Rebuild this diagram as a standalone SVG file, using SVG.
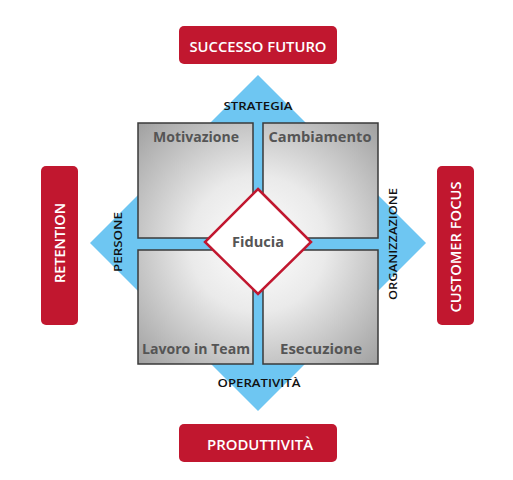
<svg xmlns="http://www.w3.org/2000/svg" width="513" height="480" viewBox="0 0 513 480">
<style>
.red{fill:#c1172f}
.rt{fill:#fff;font-family:"Open Sans","Liberation Sans",sans-serif;font-weight:600;font-size:14px;text-anchor:middle}
.lb{fill:#111;font-family:"Open Sans","Liberation Sans",sans-serif;font-weight:600;font-size:11px;text-anchor:middle}
.sq{fill:url(#g);stroke:#3a3a3a;stroke-width:1.5}
.st{fill:#555;font-family:"Open Sans","Liberation Sans",sans-serif;font-weight:700;font-size:15px;text-anchor:middle}
</style>
<defs>
<radialGradient id="g" gradientUnits="userSpaceOnUse" cx="258" cy="244" r="170">
<stop offset="0" stop-color="#ffffff"/>
<stop offset="0.4" stop-color="#eaeaea"/>
<stop offset="1" stop-color="#a0a0a0"/>
</radialGradient>
</defs>
<rect width="513" height="480" fill="#fff"/>
<g id="connectors">
<polygon points="258,75 426,243 258,411 90,243" fill="#6ec6f2"/>
</g>
<g id="successo-futuro"><rect class="red" x="179" y="26" width="158" height="38" rx="5"/><text class="rt" x="258" y="52" textLength="137" lengthAdjust="spacingAndGlyphs">SUCCESSO FUTURO</text></g>
<g id="retention"><rect class="red" x="41" y="166" width="37" height="159" rx="5"/><text class="rt" transform="translate(64.5,243) rotate(-90)" textLength="80" lengthAdjust="spacingAndGlyphs">RETENTION</text></g>
<g id="customer-focus"><rect class="red" x="437" y="166" width="37" height="159" rx="5"/><text class="rt" transform="translate(460.5,247) rotate(-90)" textLength="131" lengthAdjust="spacingAndGlyphs">CUSTOMER FOCUS</text></g>
<g id="produttivita"><rect class="red" x="179" y="424" width="158" height="38" rx="5"/><text class="rt" x="260" y="450" textLength="106" lengthAdjust="spacingAndGlyphs">PRODUTTIVITÀ</text></g>
<g id="strategia"><text class="lb" x="258" y="110" textLength="69" lengthAdjust="spacingAndGlyphs">STRATEGIA</text></g>
<g id="persone"><text class="lb" transform="translate(122,242) rotate(-90)" textLength="60" lengthAdjust="spacingAndGlyphs">PERSONE</text></g>
<g id="organizzazione"><text class="lb" transform="translate(397,244) rotate(-90)" textLength="112" lengthAdjust="spacingAndGlyphs">ORGANIZZAZIONE</text></g>
<g id="operativita"><text class="lb" x="259" y="387" textLength="83" lengthAdjust="spacingAndGlyphs">OPERATIVITÀ</text></g>
<g id="motivazione"><rect class="sq" x="138" y="123" width="115" height="115"/><text class="st" x="196" y="142" textLength="86" lengthAdjust="spacingAndGlyphs">Motivazione</text></g>
<g id="cambiamento"><rect class="sq" x="263" y="123" width="115" height="115"/><text class="st" x="320" y="142" textLength="103" lengthAdjust="spacingAndGlyphs">Cambiamento</text></g>
<g id="lavoro-in-team"><rect class="sq" x="138" y="250" width="115" height="114"/><text class="st" x="196" y="354" textLength="108" lengthAdjust="spacingAndGlyphs">Lavoro in Team</text></g>
<g id="esecuzione"><rect class="sq" x="263" y="250" width="115" height="114"/><text class="st" x="321" y="354" textLength="82" lengthAdjust="spacingAndGlyphs">Esecuzione</text></g>
<g id="fiducia"><polygon points="258,189 311,242 258,294 205,242" fill="#fff" stroke="#c1172f" stroke-width="2.5"/><text class="st" x="258" y="247" textLength="52" lengthAdjust="spacingAndGlyphs">Fiducia</text></g>
</svg>
